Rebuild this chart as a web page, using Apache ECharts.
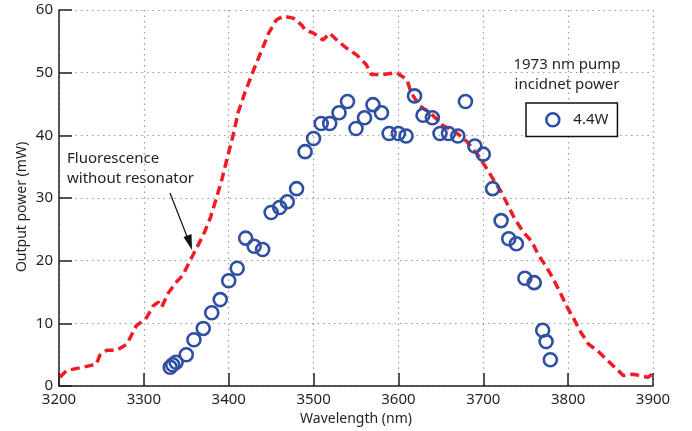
<!DOCTYPE html>
<html>
<head>
<meta charset="utf-8">
<script src="https://cdn.jsdelivr.net/npm/echarts@6/dist/echarts.min.js"></script>
<style>
html,body{margin:0;padding:0;background:#fff;}
#chart{width:692px;height:431px;}
</style>
</head>
<body>
<div id="chart"></div>
<script>
// Measured output (4.4W pump)
const measuredX = [3331,3334,3338,3350,3359,3370,3380,3390,3400,3410,3420,3430,3440,3450,3460,3469,3480,3490,3500,3509,3519,3530,3540,3550,3560,3570,3580,3589,3600,3609,3619,3629,3640,3649,3659,3670,3679,3690,3700,3711,3721,3730,3739,3749,3760,3770,3774,3779];
const measuredY = [3.0,3.4,3.8,5.0,7.4,9.2,11.7,13.8,16.8,18.8,23.6,22.3,21.8,27.7,28.5,29.4,31.5,37.4,39.5,41.9,41.9,43.6,45.4,41.1,42.8,44.9,43.6,40.3,40.3,39.9,46.3,43.2,42.8,40.3,40.3,39.9,45.4,38.3,37.0,31.5,26.4,23.5,22.7,17.2,16.5,8.9,7.1,4.2];
// Fluorescence without resonator
const fluorX = [3201,3209,3228,3244,3248,3256,3268,3280,3291,3303,3311,3317,3321,3329,3339,3346,3354,3362,3370,3378,3386,3392,3399,3405,3411,3419,3425,3431,3439,3447,3456,3464,3476,3486,3490,3500,3511,3519,3529,3539,3551,3562,3568,3582,3598,3610,3615,3625,3639,3653,3666,3680,3694,3704,3714,3721,3727,3737,3747,3757,3765,3774,3782,3790,3798,3806,3814,3824,3835,3845,3855,3865,3876,3884,3894,3899];
const fluorY = [1.4,2.5,3.0,3.5,4.9,5.7,5.7,6.7,9.6,10.9,12.8,13.4,12.6,14.9,16.7,17.7,19.9,22.0,24.1,26.7,30.2,33.0,36.8,39.9,43.6,46.8,48.9,51.0,53.6,56.3,58.4,59.0,58.7,57.6,56.8,56.3,55.2,56.3,55.0,53.9,52.8,51.3,49.7,49.7,50.0,48.9,46.8,44.7,43.4,41.5,40.7,39.1,36.8,34.7,32.5,31.0,29.4,26.7,24.6,23.1,20.9,19.1,17.2,15.1,12.8,10.9,8.8,6.7,5.6,4.3,3.0,1.7,1.9,1.7,1.4,1.9];
const xMin = 3200, xMax = 3900, xStep = 100;
const yMin = 0, yMax = 60, yStep = 10;
const seriesName = '4.4W';

const FONT = 'Noto Sans';
const TXT = '#231f20';
const BLUE = '#2f4fa2';
const chart = echarts.init(document.getElementById('chart'), null, {renderer:'canvas'});
const gridLine = {show:true, lineStyle:{color:'#9a9a9a', type:[1.5,4], width:1.2}};
chart.setOption({
  animation:false,
  backgroundColor:'#fff',
  grid:{left:59, right:39, top:10, bottom:42, containLabel:false},
  xAxis:{
    type:'value', min:xMin, max:xMax, interval:xStep,
    axisLine:{show:true, lineStyle:{color:TXT, width:1.5}},
    axisTick:{show:true, inside:true, length:13, lineStyle:{color:TXT, width:1.5}},
    axisLabel:{color:TXT, fontSize:15, fontFamily:FONT, margin:6, formatter:v=>String(v)},
    splitLine:gridLine,
    name:'Wavelength (nm)', nameLocation:'middle', nameGap:25,
    nameTextStyle:{color:TXT, fontSize:14, fontFamily:FONT}
  },
  yAxis:{
    type:'value', min:yMin, max:yMax, interval:yStep,
    axisLine:{show:true, lineStyle:{color:TXT, width:1.5}},
    axisTick:{show:true, inside:true, length:13, lineStyle:{color:TXT, width:1.5}},
    axisLabel:{color:TXT, fontSize:15, fontFamily:FONT, margin:6, formatter:v=>String(v)},
    splitLine:gridLine
  },
  legend:{
    show:true, data:[{name:seriesName, icon:'circle'}],
    left:526, top:103, orient:'vertical',
    itemWidth:13, itemHeight:13,
    padding:[9,9,9,19],
    borderColor:'#111', borderWidth:1.5, backgroundColor:'#fff',
    itemStyle:{color:'rgba(0,0,0,0)', borderColor:BLUE, borderWidth:2.6},
    textStyle:{color:TXT, fontSize:15, fontFamily:FONT, padding:[0,0,0,9]}
  },
  graphic:[
    {type:'text', x:22, y:207, rotation:Math.PI/2, style:{text:'Output power (mW)', fill:TXT, font:'14px "'+FONT+'"', align:'center', verticalAlign:'middle'}},
    {type:'text', x:567, y:65, style:{text:'1973 nm pump', fill:TXT, font:'15px "'+FONT+'"', align:'center', verticalAlign:'middle'}},
    {type:'text', x:567, y:85, style:{text:'incidnet power', fill:TXT, font:'15px "'+FONT+'"', align:'center', verticalAlign:'middle'}},
    {type:'text', x:67, y:159, style:{text:'Fluorescence', fill:TXT, font:'15px "'+FONT+'"', align:'left', verticalAlign:'middle'}},
    {type:'text', x:67, y:179, style:{text:'without resonator', fill:TXT, font:'15px "'+FONT+'"', align:'left', verticalAlign:'middle'}},
    {type:'line', shape:{x1:170, y1:193, x2:188, y2:239}, style:{stroke:'#111', lineWidth:1.2}},
    {type:'polygon', shape:{points:[[192,250],[183.5,237],[191.5,234]]}, style:{fill:'#111'}}
  ],
  series:[
    {
      name:'Fluorescence', type:'line',
      data:fluorX.map((x,i)=>[x, fluorY[i]]),
      showSymbol:false, symbol:'none',
      lineStyle:{color:'#ee1c25', width:3.5, type:[9,5]},
      z:2
    },
    {
      name:seriesName, type:'scatter',
      data:measuredX.map((x,i)=>[x, measuredY[i]]),
      symbol:'circle', symbolSize:13,
      itemStyle:{color:'rgba(0,0,0,0)', borderColor:BLUE, borderWidth:2.6, opacity:1},
      z:3
    }
  ]
});
</script>
</body>
</html>
